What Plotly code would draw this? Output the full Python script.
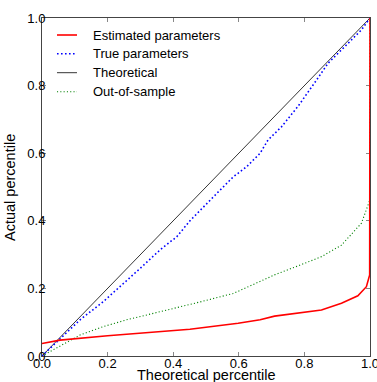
import plotly.graph_objects as go

# Percentile-percentile curves
est_x = [0, 0.055, 0.2, 0.36, 0.451, 0.598, 0.665, 0.709, 0.852, 0.913, 0.963, 0.989, 0.999, 1.0]
est_y = [0.037, 0.047, 0.06, 0.072, 0.079, 0.097, 0.107, 0.118, 0.136, 0.156, 0.178, 0.205, 0.24, 1.0]

true_x = [0, 0.055, 0.116, 0.187, 0.238, 0.299, 0.36, 0.411, 0.451, 0.492, 0.533, 0.583,
          0.624, 0.665, 0.689, 0.73, 0.78, 0.831, 0.872, 0.933, 0.974, 1.0]
true_y = [0, 0.05, 0.107, 0.161, 0.205, 0.259, 0.314, 0.353, 0.40, 0.442, 0.481, 0.53,
          0.56, 0.60, 0.639, 0.678, 0.738, 0.808, 0.866, 0.925, 0.965, 1.0]

theo_x = [0, 1]
theo_y = [0, 1]

oos_x = [0, 0.055, 0.116, 0.187, 0.258, 0.36, 0.451, 0.482, 0.583, 0.665, 0.709, 0.80,
         0.852, 0.913, 0.974, 0.999, 1.0]
oos_y = [0, 0.03, 0.062, 0.087, 0.107, 0.131, 0.151, 0.16, 0.185, 0.22, 0.24, 0.274,
         0.294, 0.328, 0.393, 0.46, 1.0]

tick_vals = [0, 0.2, 0.4, 0.6, 0.8, 1.0]
tick_text = ["0.0", "0.2", "0.4", "0.6", "0.8", "1.0"]

series = [
    ("Estimated parameters", est_x, est_y, dict(color="#ff0000", width=1.6)),
    ("True parameters", true_x, true_y, dict(color="#0000ff", width=1.6, dash="1.6px,2.4px")),
    ("Theoretical", theo_x, theo_y, dict(color="#000000", width=0.8)),
    ("Out-of-sample", oos_x, oos_y, dict(color="#008000", width=1.1, dash="1.1px,2.2px")),
]

FONT = "Liberation Sans, Arial, sans-serif"

fig = go.Figure()
draw_order = [2, 3, 1, 0]
for i in draw_order:
    name, xs, ys, line = series[i]
    fig.add_trace(go.Scatter(x=xs, y=ys, mode="lines", name=name, line=line,
                             showlegend=False, hoverinfo="skip"))

# Legend drawn as swatches + labels in the upper-left corner of the axes
leg_y = [0.9497, 0.8944, 0.8382, 0.7820]
for (name, _, _, line), yy in zip(series, leg_y):
    fig.add_shape(type="line", xref="paper", yref="paper",
                  x0=0.0457, x1=0.1067, y0=yy, y1=yy,
                  line=dict(color=line["color"], width=line["width"],
                            dash=line.get("dash", "solid")))
    fig.add_annotation(text=name, xref="paper", yref="paper", x=0.148, y=yy,
                       xanchor="left", yanchor="middle", showarrow=False,
                       font=dict(family=FONT, size=13, color="#000000"))

# Axis titles
fig.add_annotation(text="Theoretical percentile", xref="paper", yref="paper",
                   x=0.5, y=-0.028, xanchor="center", yanchor="top", showarrow=False,
                   font=dict(family=FONT, size=14.5, color="#000000"))
fig.add_annotation(text="Actual percentile", xref="paper", yref="paper",
                   x=-0.0976, y=0.5, xanchor="center", yanchor="middle", showarrow=False,
                   textangle=-90, font=dict(family=FONT, size=14.5, color="#000000"))

axis_common = dict(
    range=[0, 1], tickvals=tick_vals, ticktext=tick_text,
    showgrid=False, zeroline=False,
    showline=True, linecolor="#444444", linewidth=1, mirror="ticks",
    ticks="inside", ticklen=4, tickcolor="#888888", tickwidth=1,
    tickfont=dict(family=FONT, size=13, color="#000000"),
    ticklabeloverflow="allow",
    layer="below traces",
)

fig.update_layout(
    width=377, height=382,
    margin=dict(l=42, r=7, t=18, b=26, autoexpand=False),
    paper_bgcolor="white", plot_bgcolor="white",
    xaxis=dict(**axis_common, ticklabelstandoff=-5),
    yaxis=dict(**axis_common, ticklabelstandoff=-7),
    showlegend=False,
)

fig.write_html("out.html")
